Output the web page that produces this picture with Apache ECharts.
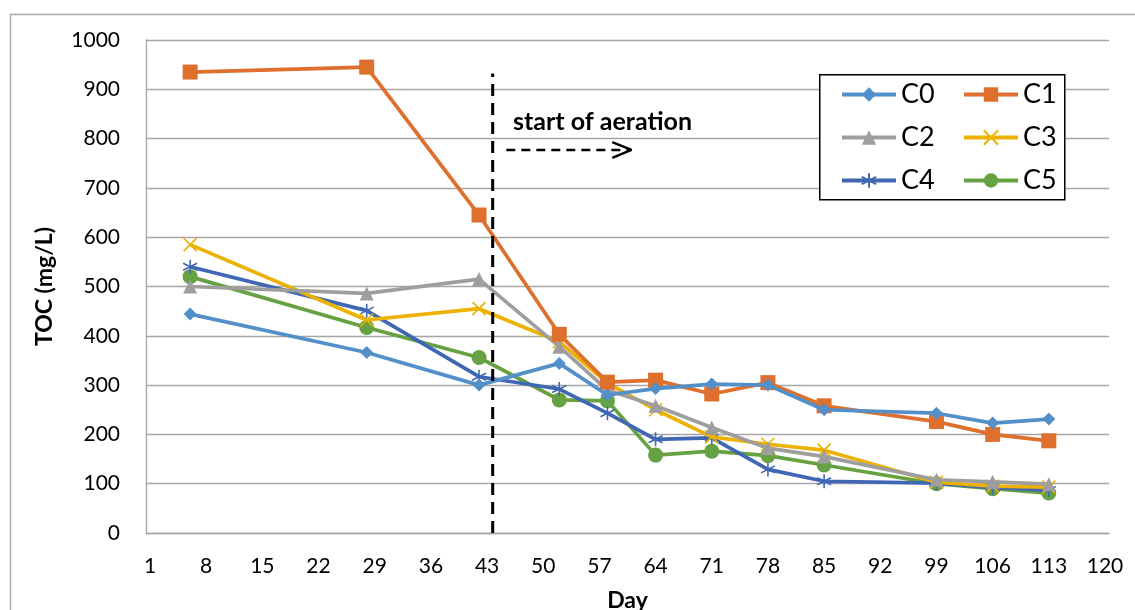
<!DOCTYPE html>
<html>
<head>
<meta charset="utf-8">
<script src="https://cdn.jsdelivr.net/npm/echarts@6/dist/echarts.min.js"></script>
<style>html,body{margin:0;padding:0;background:#fff;}#c{width:1135px;height:610px;}</style>
</head>
<body>
<div id="c"></div>
<script>
// ---- data ----
var dayCategories = [];
for (var d = 1; d <= 120; d++) dayCategories.push(String(d));
var sampleDays = ['6','28','42','52','58','64','71','78','85','99','106','113'];
var C0 = [444, 366, 300, 344, 280, 293, 302, 300, 250, 243, 223, 231];
var C1 = [935, 945, 645, 403, 306, 310, 282, 305, 258, 226, 200, 187];
var C2 = [500, 486, 515, 378, 290, 258, 214, 172, 155, 108, 104, 99];
var C3 = [585, 432, 455, 388, 304, 250, 195, 180, 168, 103, 95, 93];
var C4 = [540, 451, 317, 292, 243, 190, 193, 129, 105, 101, 92, 87];
var C5 = [520, 417, 356, 270, 268, 158, 166, 157, 138, 100, 90, 81];
var seriesNames = ['C0','C1','C2','C3','C4','C5'];
var aerationDay = 43.7;
var aerationTop = 932;
var arrowY = 777;
var arrowX = [45.4, 61.0];
var arrowHead = [[58.6, 793], [61.0, 777], [58.6, 761]];

var FONT = 'Lato, "Open Sans", sans-serif';
var colors = ['#5390CA', '#DE6F2C', '#9E9E9E', '#EDB100', '#3F67B4', '#66A142'];
var symbols = ['diamond', 'rect', 'triangle',
  'path://M0,0 L10,10 M10,0 L0,10',
  'path://M5,0 L5,10 M0.7,2.5 L9.3,7.5 M0.7,7.5 L9.3,2.5',
  'circle'];
var symSizes = [13, 15, 14, 13, 14, 15];
var allData = [C0, C1, C2, C3, C4, C5];

function pairs(vals) {
  return sampleDays.map(function (d, i) { return [d, vals[i]]; });
}

var series = seriesNames.map(function (n, i) {
  var stroke = (i === 3 || i === 4);
  return {
    name: n, type: 'line', xAxisIndex: 0, yAxisIndex: 0,
    data: pairs(allData[i]),
    symbol: symbols[i], symbolSize: symSizes[i],
    showSymbol: true, showAllSymbol: true,
    lineStyle: { color: colors[i], width: 3.7 },
    itemStyle: { color: colors[i], borderColor: colors[i], borderWidth: stroke ? 1.6 : 0 },
    emphasis: { disabled: true },
    animation: false, z: 3 + (5 - i)
  };
});

series.push({
  type: 'line', xAxisIndex: 1, yAxisIndex: 0, silent: true, animation: false,
  data: [[aerationDay, 0], [aerationDay, aerationTop]], symbol: 'none',
  lineStyle: { color: '#000', width: 3, type: [12, 7] }, z: 10
});
series.push({
  type: 'line', xAxisIndex: 1, yAxisIndex: 0, silent: true, animation: false,
  data: [[arrowX[0], arrowY], [arrowX[1] - 0.3, arrowY]], symbol: 'none',
  lineStyle: { color: '#000', width: 2.5, type: [9, 6] }, z: 10
});
series.push({
  type: 'line', xAxisIndex: 1, yAxisIndex: 0, silent: true, animation: false,
  data: arrowHead, symbol: 'none',
  lineStyle: { color: '#000', width: 2.5 }, z: 10
});

var legendCommon = {
  orient: 'vertical', top: 76,
  itemWidth: 54, itemHeight: 18, itemGap: 16,
  textStyle: { fontSize: 27, color: '#000', fontFamily: FONT },
  lineStyle: { width: 4 },
  selectedMode: false, z: 6
};

var chart = echarts.init(document.getElementById('c'), null, { renderer: 'canvas' });
chart.setOption({
  backgroundColor: '#fff',
  animation: false,
  textStyle: { fontFamily: FONT },
  grid: { left: 146, top: 40, right: 26, bottom: 77, containLabel: false, outerBoundsMode: 'none' },
  xAxis: [{
    type: 'category', data: dayCategories, boundaryGap: true,
    axisLine: { lineStyle: { color: '#A6A6A6', width: 1.3 } },
    axisTick: { show: false },
    axisLabel: { interval: 6, color: '#000', fontSize: 21, fontFamily: FONT, margin: 23 },
    splitLine: { show: false },
    name: 'Day', nameLocation: 'middle', nameGap: 56,
    nameTextStyle: { color: '#000', fontSize: 23, fontWeight: 'bold', fontFamily: FONT }
  }, {
    type: 'value', min: 0.5, max: 120.5, show: false
  }],
  yAxis: [{
    type: 'value', min: 0, max: 1000, interval: 100,
    axisLine: { show: true, lineStyle: { color: '#A6A6A6', width: 1.3 } },
    axisTick: { show: false },
    axisLabel: { color: '#000', fontSize: 21, fontFamily: FONT, margin: 26,
      formatter: function (v) { return String(v); } },
    splitLine: { lineStyle: { color: '#A6A6A6', width: 1.3 } },
    name: 'TOC (mg/L)', nameLocation: 'middle', nameGap: 90, nameRotate: 90,
    nameTextStyle: { color: '#000', fontSize: 23, fontWeight: 'bold', fontFamily: FONT }
  }],
  legend: [
    Object.assign({ data: ['C0', 'C2', 'C4'], left: 835 }, legendCommon),
    Object.assign({ data: ['C1', 'C3', 'C5'], left: 957 }, legendCommon)
  ],
  graphic: [{
    type: 'rect', left: 8, top: 12, z: -1, silent: true,
    shape: { width: 1150, height: 620 },
    style: { fill: 'none', stroke: '#A6A6A6', lineWidth: 1.3 }
  }, {
    type: 'rect', left: 819, top: 74, z: 5, silent: true,
    shape: { width: 245, height: 125 },
    style: { fill: '#fff', stroke: '#000', lineWidth: 1.5 }
  }, {
    type: 'text', left: 513, top: 109, z: 10, silent: true,
    style: { text: 'start of aeration', fill: '#000', font: 'bold 25px ' + FONT }
  }],
  series: series
});
</script>
</body>
</html>
